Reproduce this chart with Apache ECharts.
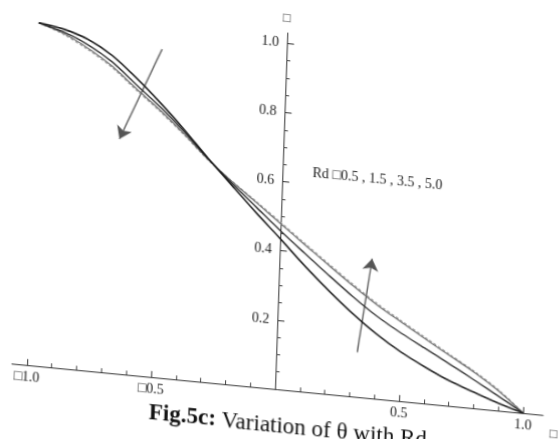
<!DOCTYPE html>
<html><head><meta charset="utf-8">
<script src="https://cdn.jsdelivr.net/npm/echarts@6/dist/echarts.min.js"></script>
<style>
html,body{margin:0;padding:0;background:#fff;overflow:hidden;width:559px;height:439px}
#c{position:absolute;left:0;top:0;width:559px;height:439px;transform-origin:275px 389px;transform:matrix(1,0.0968,-0.0346,1,0,0);}
</style></head><body><div id="c"></div>
<script>
// eta values (x axis)
const xValues = [-1.0,-0.9,-0.8,-0.7,-0.6,-0.5,-0.4,-0.3,-0.2,-0.1,0.0,0.1,0.2,0.3,0.4,0.5,0.6,0.7,0.8,0.9,1.0];
// theta for Rd = 0.5, 1.5, 3.5, 5.0
const thetaRd05 = [0.99,0.979,0.956,0.916,0.858,0.793,0.722,0.646,0.574,0.503,0.435,0.365,0.300,0.240,0.187,0.142,0.105,0.072,0.046,0.021,0.0];
const thetaRd15 = [0.99,0.971,0.941,0.898,0.839,0.781,0.716,0.645,0.580,0.519,0.458,0.400,0.343,0.288,0.238,0.196,0.158,0.120,0.081,0.041,0.0];
const thetaRd35 = [0.99,0.967,0.931,0.886,0.828,0.772,0.710,0.643,0.585,0.532,0.478,0.424,0.371,0.319,0.270,0.227,0.185,0.144,0.103,0.056,0.0];
const thetaRd50 = [0.99,0.964,0.927,0.882,0.824,0.768,0.707,0.641,0.586,0.535,0.482,0.428,0.375,0.323,0.274,0.231,0.189,0.147,0.106,0.059,0.0];
const seriesNames = ['Rd = 0.5','Rd = 1.5','Rd = 3.5','Rd = 5.0'];

// ticks
const xMajorTicks = [-1.0,-0.5,0.5,1.0];
const xTickLabels = ['\u25A11.0','\u25A10.5','0.5','1.0'];
const xMinorTicks = [-0.9,-0.8,-0.7,-0.6,-0.4,-0.3,-0.2,-0.1,0.1,0.2,0.3,0.4,0.6,0.7,0.8,0.9];
const yMajorTicks = [0.2,0.4,0.6,0.8,1.0];
const yTickLabels = ['0.2','0.4','0.6','0.8','1.0'];
const yMinorTicks = [0.05,0.1,0.15,0.25,0.3,0.35,0.45,0.5,0.55,0.65,0.7,0.75,0.85,0.9,0.95];

// arrows (tail -> head) in data coordinates
const arrowLeft = [[-0.501,0.948],[-0.660,0.678]];
const arrowRight = [[0.325,0.129],[0.372,0.403]];

const annotationText = 'Rd \u25A10.5 , 1.5 , 3.5 , 5.0';
const axisNameText = '\u25A1';
const captionBold = 'Fig.5c:';
const captionRest = ' Variation of \u03B8 with Rd';

const FONT = '"Liberation Serif", "Times New Roman", serif';
const chart = echarts.init(document.getElementById('c'), null, {renderer:'canvas'});

function pts(ys){ return xValues.map((x,i)=>[x, ys[i]]); }

const GL = 12, GW = 531, GT = 33, GH = 356;
const X_MIN = -1.06, X_MAX = 1.08;
const yOffset = -Math.round((0 - X_MIN) / (X_MAX - X_MIN) * GW); // place y axis at x = 0

const option = {
  animation:false,
  backgroundColor:'#ffffff',
  grid:{left:GL, top:GT, width:GW, height:GH, containLabel:false, outerBoundsMode:'none'},
  xAxis:[
    {type:'value', gridIndex:0, min:X_MIN, max:X_MAX, splitLine:{show:false}, position:'bottom',
      axisLine:{onZero:false, lineStyle:{color:'#333', width:1}},
      axisTick:{show:true, inside:true, length:6, customValues:xMajorTicks, lineStyle:{color:'#333'}},
      axisLabel:{customValues:xMajorTicks, margin:5, fontFamily:FONT, fontSize:14, color:'#222',
        formatter:function(v){ const i = xMajorTicks.findIndex(t=>Math.abs(t-v)<1e-9); return i>=0 ? xTickLabels[i] : ''; }}
    },
    {type:'value', gridIndex:0, min:X_MIN, max:X_MAX, splitLine:{show:false}, position:'bottom',
      axisLine:{show:false, onZero:false},
      axisTick:{show:true, inside:true, length:4, customValues:xMinorTicks, lineStyle:{color:'#444'}},
      axisLabel:{show:false}
    }
  ],
  yAxis:[
    {type:'value', min:0, max:1.03, gridIndex:0, splitLine:{show:false}, position:'left', offset:yOffset,
      axisLine:{onZero:false, lineStyle:{color:'#333', width:1}},
      axisTick:{show:true, inside:true, length:7, customValues:yMajorTicks, lineStyle:{color:'#333'}},
      axisLabel:{customValues:yMajorTicks, margin:8, fontFamily:FONT, fontSize:14, color:'#222',
        formatter:function(v){ const i = yMajorTicks.findIndex(t=>Math.abs(t-v)<1e-9); return i>=0 ? yTickLabels[i] : ''; }}
    },
    {type:'value', min:0, max:1.03, gridIndex:0, splitLine:{show:false}, position:'left', offset:yOffset,
      axisLine:{show:false, onZero:false},
      axisTick:{show:true, inside:true, length:4, customValues:yMinorTicks, lineStyle:{color:'#444'}},
      axisLabel:{show:false}
    }
  ],
  series:[
    {name:seriesNames[3], type:'line', data:pts(thetaRd50), smooth:0.3, showSymbol:false, symbol:'none',
      lineStyle:{color:'#9a9a9a', width:1.2, type:[3,2]}},
    {name:seriesNames[2], type:'line', data:pts(thetaRd35), smooth:0.3, showSymbol:false, symbol:'none',
      lineStyle:{color:'#6a6a6a', width:1.2}},
    {name:seriesNames[1], type:'line', data:pts(thetaRd15), smooth:0.3, showSymbol:false, symbol:'none',
      lineStyle:{color:'#2a2a2a', width:1.4}},
    {name:seriesNames[0], type:'line', data:pts(thetaRd05), smooth:0.3, showSymbol:false, symbol:'none',
      lineStyle:{color:'#1a1a1a', width:1.6}},
    {type:'lines', coordinateSystem:'cartesian2d', xAxisIndex:0, yAxisIndex:0, polyline:false,
      symbol:['none','arrow'], symbolSize:12,
      lineStyle:{color:'#555', width:1.3, opacity:1},
      data:[{coords:arrowLeft},{coords:arrowRight}]}
  ],
  graphic:[
    {type:'text', left:305, top:163, style:{text:annotationText, font:'14px ' + FONT, fill:'#222'}},
    {type:'text', x:270, y:12, style:{text:axisNameText, font:'13px ' + FONT, fill:'#333'}},
    {type:'text', x:550, y:401, style:{text:axisNameText, font:'13px ' + FONT, fill:'#333'}},
    {type:'text', left:150, top:414, style:{
      text:'{b|' + captionBold + '}{r|' + captionRest + '}',
      rich:{b:{fontFamily:FONT, fontSize:23, fontWeight:'bold', fill:'#111', color:'#111'},
            r:{fontFamily:FONT, fontSize:23, fill:'#111', color:'#111'}}
    }}
  ]
};
chart.setOption(option);
</script></body></html>
